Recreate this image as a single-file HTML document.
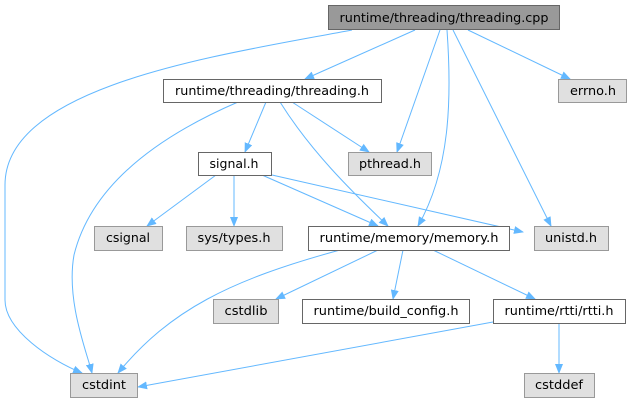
<!DOCTYPE html>
<html><head><meta charset="utf-8"><style>
html,body{margin:0;padding:0;background:#fff;}
svg{display:block;}
text{font-family:"DejaVu Sans","Liberation Sans",sans-serif;font-size:12px;fill:#000;text-anchor:middle;}
</style></head><body>
<svg width="631" height="403" viewBox="0 0 631 403" xmlns="http://www.w3.org/2000/svg">
<defs>
<marker id="a" markerWidth="10" markerHeight="10" refX="9" refY="5" orient="auto" markerUnits="userSpaceOnUse">
<path d="M0,1 L10,5 L0,9 Z" fill="#63b8ff"/>
</marker>
</defs>
<g fill="none" stroke="#63b8ff" stroke-width="1" marker-end="url(#a)">
<path d="M352,30 C220,55 5,85 5,185 L5,300 C5,330 50,360 82,373"/>
<path d="M415,30 L305,79"/>
<path d="M440,30 L397,152"/>
<path d="M447,30 C452,100 450,170 418,226"/>
<path d="M453,30 L551,226"/>
<path d="M468,30 L570,79"/>
<path d="M266,102 L245,152"/>
<path d="M292,102 L369,152"/>
<path d="M280,102 C310,150 350,190 388,226"/>
<path d="M238,102 C150,140 90,190 74,255 C66,300 86,350 92,373"/>
<path d="M216,175 L147,226"/>
<path d="M234,175 L234,226"/>
<path d="M262,175 L378,226"/>
<path d="M272,175 L523,232"/>
<path d="M340,250 C230,280 170,310 118,373"/>
<path d="M378,250 L276,299"/>
<path d="M403,250 L393,299"/>
<path d="M433,250 L535,299"/>
<path d="M493,322 L138,387"/>
<path d="M559,323 L559,373"/>
</g>
<g stroke-width="1">
<rect x="328.5" y="5.5" width="231" height="24" fill="#999" stroke="#666"/>
<rect x="163.5" y="79.5" width="218" height="23" fill="#fff" stroke="#666"/>
<rect x="558.5" y="79.5" width="68" height="23" fill="#e0e0e0" stroke="#999"/>
<rect x="198.5" y="152.5" width="73" height="23" fill="#fff" stroke="#666"/>
<rect x="348.5" y="152.5" width="83" height="23" fill="#e0e0e0" stroke="#999"/>
<rect x="94.5" y="226.5" width="68" height="24" fill="#e0e0e0" stroke="#999"/>
<rect x="186.5" y="226.5" width="96" height="24" fill="#e0e0e0" stroke="#999"/>
<rect x="308.5" y="226.5" width="201" height="24" fill="#fff" stroke="#666"/>
<rect x="534.5" y="226.5" width="74" height="24" fill="#e0e0e0" stroke="#999"/>
<rect x="213.5" y="299.5" width="65" height="24" fill="#e0e0e0" stroke="#999"/>
<rect x="302.5" y="299.5" width="167" height="24" fill="#fff" stroke="#666"/>
<rect x="493.5" y="299.5" width="132" height="24" fill="#fff" stroke="#666"/>
<rect x="70.5" y="373.5" width="67" height="24" fill="#e0e0e0" stroke="#999"/>
<rect x="524.5" y="373.5" width="70" height="24" fill="#e0e0e0" stroke="#999"/>
</g>
<g>
<text x="444" y="22" textLength="209" lengthAdjust="spacingAndGlyphs">runtime/threading/threading.cpp</text>
<text x="272" y="95" textLength="194" lengthAdjust="spacingAndGlyphs">runtime/threading/threading.h</text>
<text x="593" y="95" textLength="46" lengthAdjust="spacingAndGlyphs">errno.h</text>
<text x="234" y="168" textLength="49" lengthAdjust="spacingAndGlyphs">signal.h</text>
<text x="390" y="168" textLength="62" lengthAdjust="spacingAndGlyphs">pthread.h</text>
<text x="128" y="242" textLength="44" lengthAdjust="spacingAndGlyphs">csignal</text>
<text x="234" y="242" textLength="73" lengthAdjust="spacingAndGlyphs">sys/types.h</text>
<text x="409" y="242" textLength="179" lengthAdjust="spacingAndGlyphs">runtime/memory/memory.h</text>
<text x="571" y="242" textLength="52" lengthAdjust="spacingAndGlyphs">unistd.h</text>
<text x="246" y="315" textLength="43" lengthAdjust="spacingAndGlyphs">cstdlib</text>
<text x="386" y="315" textLength="145" lengthAdjust="spacingAndGlyphs">runtime/build_config.h</text>
<text x="559" y="315" textLength="109" lengthAdjust="spacingAndGlyphs">runtime/rtti/rtti.h</text>
<text x="104" y="389" textLength="44" lengthAdjust="spacingAndGlyphs">cstdint</text>
<text x="559" y="389" textLength="48" lengthAdjust="spacingAndGlyphs">cstddef</text>
</g>
</svg>
</body></html>
